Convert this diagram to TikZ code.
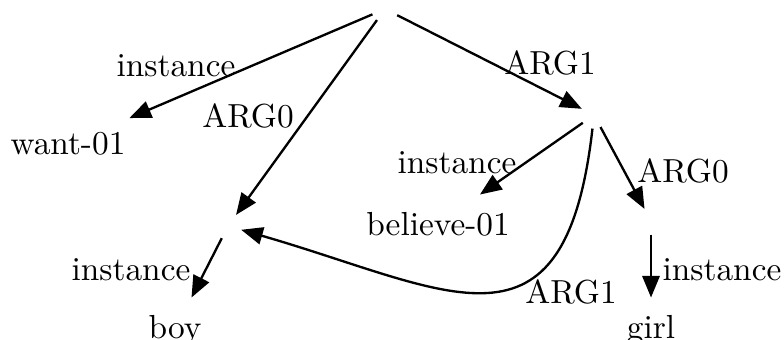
\documentclass[tikz,border=0pt]{standalone}
\usepackage{tikz}
\usetikzlibrary{arrows.meta}

\begin{document}
\begin{tikzpicture}[x=0.3pt,y=-0.3pt,
  varNode/.style={circle,minimum size=7.8pt,inner sep=0pt},
  textNode/.style={anchor=base,inner xsep=1pt,inner ysep=5pt},
  edgeLabel/.style={anchor=base,inner sep=0pt},
  arc/.style={-{Triangle[length=6.5pt,width=5.2pt]},line width=0.7pt}]
\useasboundingbox (0,0) rectangle (784,339);
% degiskenler
\node[varNode] (w) at (385,9) {};
\node[varNode] (b) at (228,226) {};
\node[varNode] (b2) at (594,115) {};
\node[varNode] (g) at (651,221) {};
% kavramlar
\node[textNode] (want) at (68,155) {want-01};
\node[textNode] (believe) at (438,235) {believe-01};
\node[textNode] (boy) at (175,338) {boy};
\node[textNode] (girl) at (651,338) {girl};
% kenarlar
\draw[arc] (w) -- (want);
\draw[arc] (w) -- (b);
\draw[arc] (w) -- (b2);
\draw[arc] (b) -- (boy);
\draw[arc] (b2) -- (believe);
\draw[arc] (b2) -- (g);
\draw[arc] (g) -- (girl);
\draw[arc] (b2) .. controls (565,370) and (450,290) .. (b);
% etiketler
\node[edgeLabel] (lInst1) at (176,77) {instance};
\node[edgeLabel] (lArg0a) at (248,127) {ARG0};
\node[edgeLabel] (lArg1a) at (550,75) {ARG1};
\node[edgeLabel] (lInst2) at (457,173) {instance};
\node[edgeLabel] (lArg0b) at (683,182) {ARG0};
\node[edgeLabel] (lArg1b) at (571,303) {ARG1};
\node[edgeLabel] (lInst3) at (131,280) {instance};
\node[edgeLabel] (lInst4) at (722,280) {instance};
\end{tikzpicture}
\end{document}
